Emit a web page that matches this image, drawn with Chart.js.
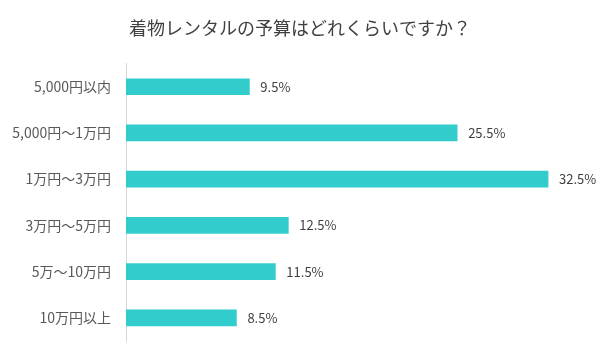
<!DOCTYPE html>
<html>
<head>
<meta charset="utf-8">
<script src="https://cdn.jsdelivr.net/npm/chart.js@4"></script>
<style>
  html, body { margin: 0; padding: 0; background: #fff; }
  #wrap { width: 600px; height: 359px; }
</style>
</head>
<body>
<div id="wrap"><canvas id="budgetChart"></canvas></div>
<script>
const categories = ["5,000円以内", "5,000円～1万円", "1万円～3万円", "3万円～5万円", "5万～10万円", "10万円以上"];
const shares = [9.5, 25.5, 32.5, 12.5, 11.5, 8.5];

const FONT = "'Noto Sans CJK JP', 'Noto Sans', sans-serif";

// value labels at the end of each bar
const barLabels = {
  id: "barLabels",
  afterDatasetsDraw(chart) {
    const ctx = chart.ctx;
    const meta = chart.getDatasetMeta(0);
    ctx.save();
    ctx.font = "13px " + FONT;
    ctx.fillStyle = "#404040";
    ctx.textAlign = "left";
    ctx.textBaseline = "middle";
    meta.data.forEach((bar, i) => {
      ctx.fillText(shares[i].toFixed(1) + "%", bar.x + 11, bar.y);
    });
    ctx.restore();
  }
};

new Chart(document.getElementById("budgetChart"), {
  type: "bar",
  data: {
    labels: categories,
    datasets: [{
      data: shares,
      backgroundColor: "#33CCCC",
      barThickness: 16,
    }]
  },
  options: {
    indexAxis: "y",
    responsive: true,
    maintainAspectRatio: false,
    animation: false,
    layout: {
      padding: { left: 0, right: 0, bottom: 18 }
    },
    plugins: {
      legend: { display: false },
      tooltip: { enabled: false },
      title: {
        display: true,
        text: "着物レンタルの予算はどれくらいですか？",
        color: "#404040",
        font: { family: FONT, size: 18, weight: "normal" },
        padding: { top: 17, bottom: 25 }
      }
    },
    scales: {
      x: {
        display: false,
        min: 0,
        max: 36.5,
      },
      y: {
        grid: { display: false },
        border: { display: true, color: "#d9d9d9" },
        ticks: {
          color: "#595959",
          padding: 7,
          font: { family: FONT, size: 14 }
        },
        afterFit(scale) {
          scale.width = 126;
        }
      }
    }
  },
  plugins: [barLabels]
});
</script>
</body>
</html>
